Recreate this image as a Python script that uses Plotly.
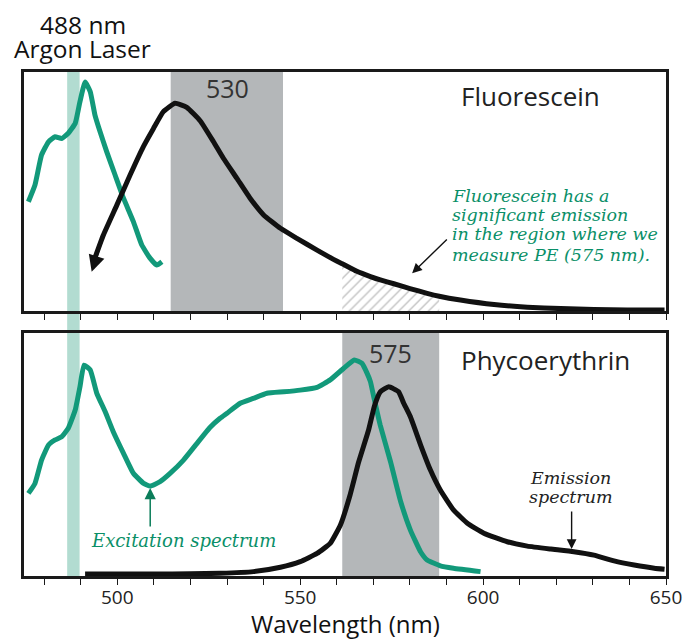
import plotly.graph_objects as go

# ---------------- data ----------------
# Fluorescein excitation (top panel)
fl_ex_x = [475.7, 477.5, 479.3, 481.2, 483.0, 484.8, 486.6, 488.5, 489.8, 491.2,
           492.6, 493.9, 495.3, 497.1, 499.4, 501.7, 504.4, 506.7, 509.0, 510.8, 512.2]
fl_ex_y = [0.457, 0.527, 0.653, 0.708, 0.729, 0.722, 0.744, 0.785, 0.876, 0.958,
           0.918, 0.82, 0.75, 0.667, 0.569, 0.472, 0.374, 0.276, 0.22, 0.192, 0.206]

# Fluorescein emission (top panel); first point is the arrow tip
fl_em_x = [493.0, 493.6, 496.2, 499.9, 503.5, 507.1, 509.9, 512.6, 515.8, 519.0,
           522.7, 526.3, 529.0, 532.7, 536.3, 540.0, 544.6, 549.1, 554.6, 560.1,
           561.5, 565.5, 569.2, 571.9, 575.6, 580.0, 584.7, 588.0, 593.8, 603.0,
           612.1, 621.2, 630.3, 639.4, 649.6]
fl_em_y = [0.164, 0.21, 0.318, 0.444, 0.569, 0.687, 0.764, 0.834, 0.869, 0.852,
           0.795, 0.708, 0.639, 0.555, 0.472, 0.402, 0.346, 0.304, 0.255, 0.208,
           0.198, 0.166, 0.144, 0.130, 0.114, 0.094, 0.074, 0.062, 0.046, 0.027,
           0.016, 0.010, 0.006, 0.004, 0.004]

# Phycoerythrin excitation (bottom panel)
pe_ex_x = [475.7, 477.5, 479.3, 481.2, 483.0, 484.8, 486.6, 488.5, 489.8, 490.9,
           492.6, 494.4, 496.7, 498.9, 501.7, 504.4, 507.2, 509.0, 511.7, 514.5,
           518.1, 521.8, 525.4, 528.1, 530.0, 533.6, 537.2, 540.9, 545.5, 550.0,
           554.6, 558.2, 561.9, 564.8, 566.9, 568.3, 569.2, 570.1, 571.9, 574.7,
           577.4, 580.1, 582.9, 584.7, 588.3, 591.9, 599.3]
pe_ex_y = [0.340, 0.381, 0.477, 0.539, 0.560, 0.573, 0.608, 0.683, 0.779, 0.868,
           0.848, 0.752, 0.676, 0.594, 0.505, 0.423, 0.381, 0.370, 0.388, 0.423,
           0.477, 0.546, 0.612, 0.649, 0.670, 0.711, 0.731, 0.752, 0.758, 0.765,
           0.776, 0.807, 0.855, 0.889, 0.875, 0.834, 0.80, 0.738, 0.62, 0.47,
           0.31, 0.19, 0.10, 0.066, 0.042, 0.032, 0.018]

# Phycoerythrin emission (bottom panel)
pe_em_x = [491.2, 500.0, 510.0, 520.0, 528.1, 537.2, 544.6, 550.0, 554.6, 558.2,
           561.0, 563.5, 566.0, 568.7, 570.3, 571.9, 574.2, 576.9, 578.3, 580.1,
           582.9, 585.6, 588.3, 591.9, 595.7, 600.2, 606.6, 612.1, 618.5, 624.8,
           630.3, 635.8, 641.3, 646.8, 649.6]
pe_em_y = [0.008, 0.008, 0.008, 0.009, 0.011, 0.018, 0.036, 0.059, 0.093, 0.134,
           0.21, 0.326, 0.47, 0.601, 0.70, 0.758, 0.779, 0.758, 0.711, 0.656,
           0.54, 0.436, 0.354, 0.272, 0.217, 0.176, 0.141, 0.123, 0.111, 0.100,
           0.086, 0.062, 0.045, 0.032, 0.028]

x_range = [474.5, 650]
laser_band = [486.3, 489.7]      # 488 nm argon laser line
fl_filter = [514.6, 545.3]       # 530 nm filter
pe_filter = [561.5, 588.0]       # 575 nm filter

laser_lines = ["488 nm", "Argon Laser"]
note_lines = ["Fluorescein has a", "significant emission", "in the region where we",
              "measure PE (575 nm)."]
emission_lines = ["Emission", "spectrum"]

GREEN = "#12997a"
TXT_GREEN = "#0a8f68"
GRAY = "#b4b7b9"
LASER = "#b2dcd1"
SANS = "Open Sans"
SERIF = "DejaVu Serif"

fig = go.Figure()

# hatched overlap region (fluorescein emission inside PE filter)
hx = [x for x in fl_em_x if pe_filter[0] <= x <= pe_filter[1]]
hy = [y for x, y in zip(fl_em_x, fl_em_y) if pe_filter[0] <= x <= pe_filter[1]]
fig.add_trace(go.Scatter(x=hx, y=hy, mode="lines", line=dict(width=0, color="rgba(0,0,0,0)"),
                         fill="tozeroy", fillcolor="rgba(255,255,255,0)",
                         fillpattern=dict(shape="/", fgcolor="#858585", bgcolor="rgba(255,255,255,0)",
                                          size=7, solidity=0.2),
                         xaxis="x", yaxis="y", hoverinfo="skip", showlegend=False))

fig.add_trace(go.Scatter(x=fl_ex_x, y=fl_ex_y, mode="lines",
                         line=dict(color=GREEN, width=5, shape="spline", smoothing=0.4),
                         xaxis="x", yaxis="y", showlegend=False))
fig.add_trace(go.Scatter(x=fl_em_x[1:], y=fl_em_y[1:], mode="lines",
                         line=dict(color="#111111", width=5, shape="spline", smoothing=0.4),
                         xaxis="x", yaxis="y", showlegend=False))
fig.add_trace(go.Scatter(x=pe_ex_x, y=pe_ex_y, mode="lines",
                         line=dict(color=GREEN, width=5, shape="spline", smoothing=0.4),
                         xaxis="x2", yaxis="y2", showlegend=False))
fig.add_trace(go.Scatter(x=pe_em_x, y=pe_em_y, mode="lines",
                         line=dict(color="#111111", width=5, shape="spline", smoothing=0.4),
                         xaxis="x2", yaxis="y2", showlegend=False))

shapes = [
    dict(type="rect", xref="x", yref="paper", x0=laser_band[0], x1=laser_band[1], y0=0, y1=1,
         fillcolor=LASER, line=dict(width=0), layer="below"),
    dict(type="rect", xref="x", yref="y domain", x0=fl_filter[0], x1=fl_filter[1], y0=0, y1=1,
         fillcolor=GRAY, line=dict(width=0), layer="below"),
    dict(type="rect", xref="x2", yref="y2 domain", x0=pe_filter[0], x1=pe_filter[1], y0=0, y1=1,
         fillcolor=GRAY, line=dict(width=0), layer="below"),
]

ann = [
    # arrowhead at start of fluorescein emission
    dict(x=fl_em_x[0], y=fl_em_y[0], ax=fl_em_x[2], ay=fl_em_y[2], xref="x", yref="y",
         axref="x", ayref="y", text="", showarrow=True, arrowhead=2, arrowsize=1.3,
         arrowwidth=2.5, arrowcolor="#111111"),
    dict(x=580.6, y=0.158, ax=590.5, ay=0.305, xref="x", yref="y", axref="x", ayref="y",
         text="", showarrow=True, arrowhead=2, arrowsize=1.4, arrowwidth=1.4, arrowcolor="#111111"),
    dict(x=509.0, y=0.362, ax=509.0, ay=0.198, xref="x2", yref="y2", axref="x2", ayref="y2",
         text="", showarrow=True, arrowhead=2, arrowsize=1.5, arrowwidth=1.5, arrowcolor="#0b7d5a"),
    dict(x=624.2, y=0.111, ax=624.2, ay=0.272, xref="x2", yref="y2", axref="x2", ayref="y2",
         text="", showarrow=True, arrowhead=2, arrowsize=1.4, arrowwidth=1.4, arrowcolor="#111111"),
    # texts
    dict(x=530, y=0.933, xref="x", yref="y", text="530", showarrow=False,
         font=dict(family=SANS, size=25, color="#333333")),
    dict(x=574.7, y=0.918, xref="x2", yref="y2", text="575", showarrow=False,
         font=dict(family=SANS, size=25, color="#333333")),
    dict(x=613.0, y=0.900, xref="x", yref="y", text="Fluorescein", showarrow=False,
         font=dict(family=SANS, size=26, color="#222222")),
    dict(x=617.1, y=0.889, xref="x2", yref="y2", text="Phycoerythrin", showarrow=False,
         font=dict(family=SANS, size=26, color="#222222")),
    dict(x=518.0, y=0.148, xref="x2", yref="y2", text="<i>Excitation spectrum</i>", showarrow=False,
         font=dict(family=SERIF, size=18, color=TXT_GREEN)),
    dict(x=0.5, y=-0.094, xref="paper", yref="paper", text="Wavelength (nm)", showarrow=False,
         yanchor="middle", font=dict(family=SANS, size=24, color="#111111")),
]
for txt, yy in zip(laser_lines, [1.094, 1.046]):
    ann.append(dict(x=490.6, y=yy, xref="x", yref="paper", text=txt, showarrow=False,
                    yanchor="middle", font=dict(family=SANS, size=24.5, color="#111111")))
note_y = [0.481, 0.402, 0.321, 0.234]
for txt, yy in zip(note_lines, note_y):
    ann.append(dict(x=591.0, y=yy, xref="x", yref="y", xanchor="left", text="<i>" + txt + "</i>",
                    showarrow=False, font=dict(family=SERIF, size=17.5, color=TXT_GREEN)))
em_y = [0.403, 0.325]
for txt, yy in zip(emission_lines, em_y):
    ann.append(dict(x=623.9, y=yy, xref="x2", yref="y2", text="<i>" + txt + "</i>",
                    showarrow=False, font=dict(family=SERIF, size=17.5, color="#222222")))

xaxis_common = dict(range=x_range, showline=True, linecolor="#1a1a1a", linewidth=2.5, mirror=True,
                    showgrid=False, zeroline=False, ticks="outside", ticklen=6, tickwidth=1.3,
                    tickcolor="#1a1a1a", tickmode="linear", tick0=500, dtick=50,
                    minor=dict(ticks="outside", ticklen=6, tickwidth=1.3, tickcolor="#1a1a1a",
                               tick0=480, dtick=10, showgrid=False),
                    tickfont=dict(family=SANS, size=19, color="#222222"))
yaxis_common = dict(range=[0, 1], showline=True, linecolor="#1a1a1a", linewidth=2.5, mirror=True,
                    showgrid=False, zeroline=False, showticklabels=False, ticks="")

# page body has an 8px default margin; size the figure so the plot lands where the reference has it
fig.update_layout(
    width=690, height=631,
    margin=dict(l=16, r=32, t=64, b=63),
    paper_bgcolor="white", plot_bgcolor="white",
    xaxis=dict(**xaxis_common, anchor="y", domain=[0, 1], showticklabels=False),
    yaxis=dict(**yaxis_common, anchor="x", domain=[0.5258, 1]),
    xaxis2=dict(**xaxis_common, anchor="y2", domain=[0, 1], showticklabels=True,
                ticklabelstandoff=-4),
    yaxis2=dict(**yaxis_common, anchor="x2", domain=[0, 0.4821]),
    shapes=shapes, annotations=ann, showlegend=False,
)

fig.write_html("out.html")
